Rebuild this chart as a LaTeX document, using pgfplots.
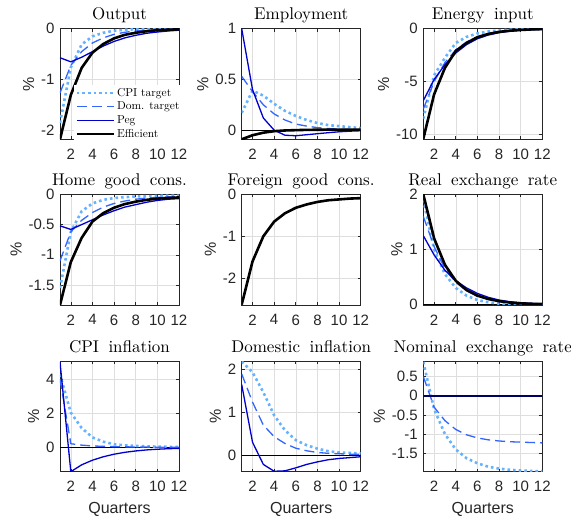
\documentclass[border=0pt]{standalone}
\usepackage{fontspec}
\setsansfont{Liberation Sans}
\newfontfamily\titlefont{lmroman10-regular}[Extension=.otf]
\newcommand\ttlfont{\titlefont\fontsize{17}{17}\selectfont\spaceskip 9.5pt\relax}
\newcommand\lgdfont{\titlefont\fontsize{11.5}{11.5}\selectfont}
\usepackage{pgfplots}
\pgfplotsset{compat=1.18}

\definecolor{cpic}{RGB}{102,178,255}
\definecolor{domc}{RGB}{51,102,255}
\definecolor{pegc}{RGB}{0,0,204}
\definecolor{axc}{RGB}{38,38,38}
\definecolor{navy}{RGB}{0,0,100}

\pgfplotsset{
 irf/.style={
  scale only axis, width=119pt, height=110.6pt,
  anchor=south west,
  xmin=1, xmax=12, xtick={2,4,...,12},
  grid=major, major grid style={black!13, line width=0.5pt},
  axis line style={axc, line width=0.6pt},
  tick style={axc, line width=0.6pt},
  tick align=inside, major tick length=3pt,
  tick label style={font=\sffamily\fontsize{15}{15}\selectfont, text=axc},
  xticklabel style={yshift=-6pt},
  yticklabel style={xshift=-2pt},
  /pgf/number format/assume math mode=true,
  title style={font={\ttlfont}, at={(0.5,1)}, anchor=base, yshift=3pt},
  ylabel={\%}, ylabel style={font=\sffamily\fontsize{16}{16}\selectfont, text=axc},
  xlabel style={font=\sffamily\fontsize{16}{16}\selectfont, text=axc,
     at={(axis description cs:0.5,0)}, anchor=base, yshift=-42pt},
  every axis plot/.append style={line join=round},
  clip mode=individual,
 },
 cpi/.style={cpic, line width=2.6pt, dash pattern=on 2.6pt off 3pt},
 dom/.style={domc, line width=1.3pt, dash pattern=on 10pt off 5pt},
 peg/.style={pegc, line width=1.3pt},
 eff/.style={black, line width=2.6pt},
 zero/.style={black, line width=0.7pt},
}

\begin{document}
\begin{tikzpicture}
\path[use as bounding box] (0,0) rectangle (571pt,516pt);

% ---------- Row 1 ----------
\begin{axis}[irf, at={(60pt,376.7pt)}, title={Output},
  ymin=-2.17, ymax=0, ytick={-2,-1,0},
  legend style={at={(axis description cs:0.12,0.49)}, anchor=north west,
    draw=none, fill=white, font={\lgdfont},
    row sep=0.2pt, inner sep=1pt},
  legend cell align=left,
  legend image code/.code={\draw[#1] (0pt,0pt) -- (37pt,0pt);}]
\addplot[cpi] coordinates {(1,-1.85)(2,-0.76)(3,-0.31)(4,-0.15)(5,-0.08)(6,-0.04)(7,-0.02)(8,-0.012)(9,-0.007)(10,-0.004)(11,-0.002)(12,-0.001)};
\addlegendentry{CPI target}
\addplot[dom] coordinates {(1,-1.26)(2,-0.72)(3,-0.45)(4,-0.28)(5,-0.18)(6,-0.11)(7,-0.07)(8,-0.045)(9,-0.03)(10,-0.02)(11,-0.012)(12,-0.008)};
\addlegendentry{Dom. target}
\addplot[peg] coordinates {(1,-0.57)(2,-0.65)(3,-0.56)(4,-0.45)(5,-0.34)(6,-0.25)(7,-0.18)(8,-0.13)(9,-0.09)(10,-0.065)(11,-0.045)(12,-0.03)};
\addlegendentry{Peg}
\addplot[eff] coordinates {(1,-2.17)(2,-1.3)(3,-0.77)(4,-0.47)(5,-0.3)(6,-0.19)(7,-0.12)(8,-0.08)(9,-0.05)(10,-0.03)(11,-0.02)(12,-0.013)};
\addlegendentry{Efficient}
\end{axis}

\begin{axis}[irf, at={(241.7pt,376.7pt)}, title={Employment},
  ymin=-0.09, ymax=1, ytick={0,0.5,1}]
\addplot[zero] coordinates {(1,0)(12,0)};
\addplot[cpi] coordinates {(1,0.17)(2,0.39)(3,0.34)(4,0.26)(5,0.19)(6,0.14)(7,0.1)(8,0.07)(9,0.05)(10,0.04)(11,0.03)(12,0.02)};
\addplot[dom] coordinates {(1,0.53)(2,0.38)(3,0.25)(4,0.16)(5,0.1)(6,0.06)(7,0.04)(8,0.025)(9,0.016)(10,0.01)(11,0.007)(12,0.005)};
\addplot[peg] coordinates {(1,1.0)(2,0.4)(3,0.12)(4,0.0)(5,-0.05)(6,-0.055)(7,-0.045)(8,-0.035)(9,-0.025)(10,-0.016)(11,-0.01)(12,-0.006)};
\addplot[eff] coordinates {(1,-0.09)(2,-0.05)(3,-0.025)(4,-0.01)(5,-0.003)(6,0.0)(7,0.003)(8,0.004)(9,0.005)(10,0.005)(11,0.005)(12,0.005)};
\end{axis}

\begin{axis}[irf, at={(423.3pt,376.7pt)}, title={Energy input},
  ymin=-10.45, ymax=0, ytick={-10,-5,0}]
\addplot[cpi] coordinates {(1,-8.5)(2,-4.4)(3,-2.75)(4,-1.35)(5,-0.77)(6,-0.45)(7,-0.27)(8,-0.16)(9,-0.1)(10,-0.06)(11,-0.04)(12,-0.02)};
\addplot[dom] coordinates {(1,-7.6)(2,-5.0)(3,-3.2)(4,-2.0)(5,-1.25)(6,-0.77)(7,-0.47)(8,-0.29)(9,-0.18)(10,-0.11)(11,-0.07)(12,-0.04)};
\addplot[peg] coordinates {(1,-6.8)(2,-4.8)(3,-3.4)(4,-2.3)(5,-1.5)(6,-0.95)(7,-0.6)(8,-0.38)(9,-0.24)(10,-0.15)(11,-0.1)(12,-0.06)};
\addplot[eff] coordinates {(1,-10.4)(2,-6.2)(3,-3.7)(4,-2.1)(5,-1.35)(6,-0.8)(7,-0.5)(8,-0.3)(9,-0.19)(10,-0.12)(11,-0.07)(12,-0.04)};
\end{axis}

% ---------- Row 2 ----------
\begin{axis}[irf, at={(60pt,211pt)}, title={Home good cons.},
  ymin=-1.83, ymax=0, ytick={-1.5,-1,-0.5,0}]
\addplot[cpi] coordinates {(1,-1.55)(2,-0.62)(3,-0.28)(4,-0.15)(5,-0.09)(6,-0.06)(7,-0.045)(8,-0.035)(9,-0.03)(10,-0.025)(11,-0.02)(12,-0.02)};
\addplot[dom] coordinates {(1,-1.1)(2,-0.62)(3,-0.43)(4,-0.3)(5,-0.21)(6,-0.15)(7,-0.11)(8,-0.08)(9,-0.06)(10,-0.05)(11,-0.04)(12,-0.035)};
\addplot[peg] coordinates {(1,-0.52)(2,-0.58)(3,-0.5)(4,-0.42)(5,-0.34)(6,-0.27)(7,-0.21)(8,-0.17)(9,-0.13)(10,-0.1)(11,-0.08)(12,-0.07)};
\addplot[eff] coordinates {(1,-1.83)(2,-1.12)(3,-0.72)(4,-0.45)(5,-0.31)(6,-0.22)(7,-0.16)(8,-0.12)(9,-0.09)(10,-0.07)(11,-0.06)(12,-0.05)};
\end{axis}

\begin{axis}[irf, at={(241.7pt,211pt)}, title={Foreign good cons.},
  ymin=-2.64, ymax=0, ytick={-2,-1,0}]
\addplot[eff] coordinates {(1,-2.63)(2,-1.6)(3,-1.0)(4,-0.65)(5,-0.45)(6,-0.32)(7,-0.24)(8,-0.18)(9,-0.14)(10,-0.12)(11,-0.1)(12,-0.09)};
\end{axis}

\begin{axis}[irf, at={(423.3pt,211pt)}, title={Real exchange rate},
  ymin=-0.01, ymax=2, ytick={0,1,2}]
\addplot[zero] coordinates {(1,0)(12,0)};
\addplot[cpi] coordinates {(1,1.9)(2,1.0)(3,0.55)(4,0.3)(5,0.16)(6,0.08)(7,0.04)(8,0.015)(9,0.0)(10,-0.005)(11,-0.008)(12,-0.008)};
\addplot[dom] coordinates {(1,1.6)(2,1.05)(3,0.65)(4,0.4)(5,0.25)(6,0.15)(7,0.09)(8,0.05)(9,0.03)(10,0.015)(11,0.008)(12,0.004)};
\addplot[peg] coordinates {(1,1.25)(2,0.9)(3,0.62)(4,0.43)(5,0.3)(6,0.2)(7,0.13)(8,0.08)(9,0.05)(10,0.03)(11,0.02)(12,0.01)};
\addplot[eff] coordinates {(1,2.0)(2,1.2)(3,0.72)(4,0.43)(5,0.26)(6,0.16)(7,0.1)(8,0.06)(9,0.035)(10,0.02)(11,0.012)(12,0.007)};
\end{axis}

% ---------- Row 3 ----------
\begin{axis}[irf, at={(60pt,44.3pt)}, title={CPI inflation}, xlabel={Quarters},
  ymin=-1.4, ymax=5.05, ytick={0,2,4}]
\addplot[zero] coordinates {(1,0)(12,0)};
\addplot[cpi] coordinates {(1,4.27)(2,2.05)(3,1.15)(4,0.6)(5,0.35)(6,0.2)(7,0.14)(8,0.1)(9,0.08)(10,0.06)(11,0.05)(12,0.05)};
\addplot[dom] coordinates {(1,4.0)(2,0.23)(3,0.15)(4,0.1)(5,0.08)(6,0.06)(7,0.05)(8,0.04)(9,0.04)(10,0.03)(11,0.03)(12,0.03)};
\addplot[peg] coordinates {(1,5.0)(2,-1.4)(3,-1.0)(4,-0.73)(5,-0.53)(6,-0.38)(7,-0.27)(8,-0.19)(9,-0.13)(10,-0.09)(11,-0.06)(12,-0.04)};
\end{axis}

\begin{axis}[irf, at={(241.7pt,44.3pt)}, title={Domestic inflation}, xlabel={Quarters},
  ymin=-0.39, ymax=2.2, ytick={0,1,2}]
\addplot[zero] coordinates {(1,0)(12,0)};
\addplot[cpi] coordinates {(1,2.19)(2,1.94)(3,1.47)(4,0.93)(5,0.58)(6,0.35)(7,0.23)(8,0.15)(9,0.09)(10,0.06)(11,0.05)(12,0.04)};
\addplot[dom] coordinates {(1,1.9)(2,1.24)(3,0.7)(4,0.43)(5,0.27)(6,0.16)(7,0.1)(8,0.06)(9,0.04)(10,0.03)(11,0.02)(12,0.02)};
\addplot[peg] coordinates {(1,1.65)(2,0.3)(3,-0.22)(4,-0.38)(5,-0.37)(6,-0.3)(7,-0.22)(8,-0.16)(9,-0.11)(10,-0.08)(11,-0.06)(12,-0.04)};
\end{axis}

\begin{axis}[irf, at={(423.3pt,44.3pt)}, title={Nominal exchange rate}, xlabel={Quarters},
  ymin=-1.98, ymax=0.9, ytick={-1.5,-1,-0.5,0,0.5}]
\addplot[cpi] coordinates {(1,0.88)(2,-0.35)(3,-1.0)(4,-1.4)(5,-1.63)(6,-1.76)(7,-1.85)(8,-1.9)(9,-1.93)(10,-1.95)(11,-1.96)(12,-1.97)};
\addplot[dom] coordinates {(1,0.5)(2,-0.3)(3,-0.65)(4,-0.88)(5,-1.02)(6,-1.1)(7,-1.15)(8,-1.18)(9,-1.2)(10,-1.21)(11,-1.22)(12,-1.23)};
\addplot[navy, line width=2pt] coordinates {(1,0)(2,0)(3,0)(4,0)(5,0)(6,0)(7,0)(8,0)(9,0)(10,0)(11,0)(12,0)};
\end{axis}
\end{tikzpicture}
\end{document}
